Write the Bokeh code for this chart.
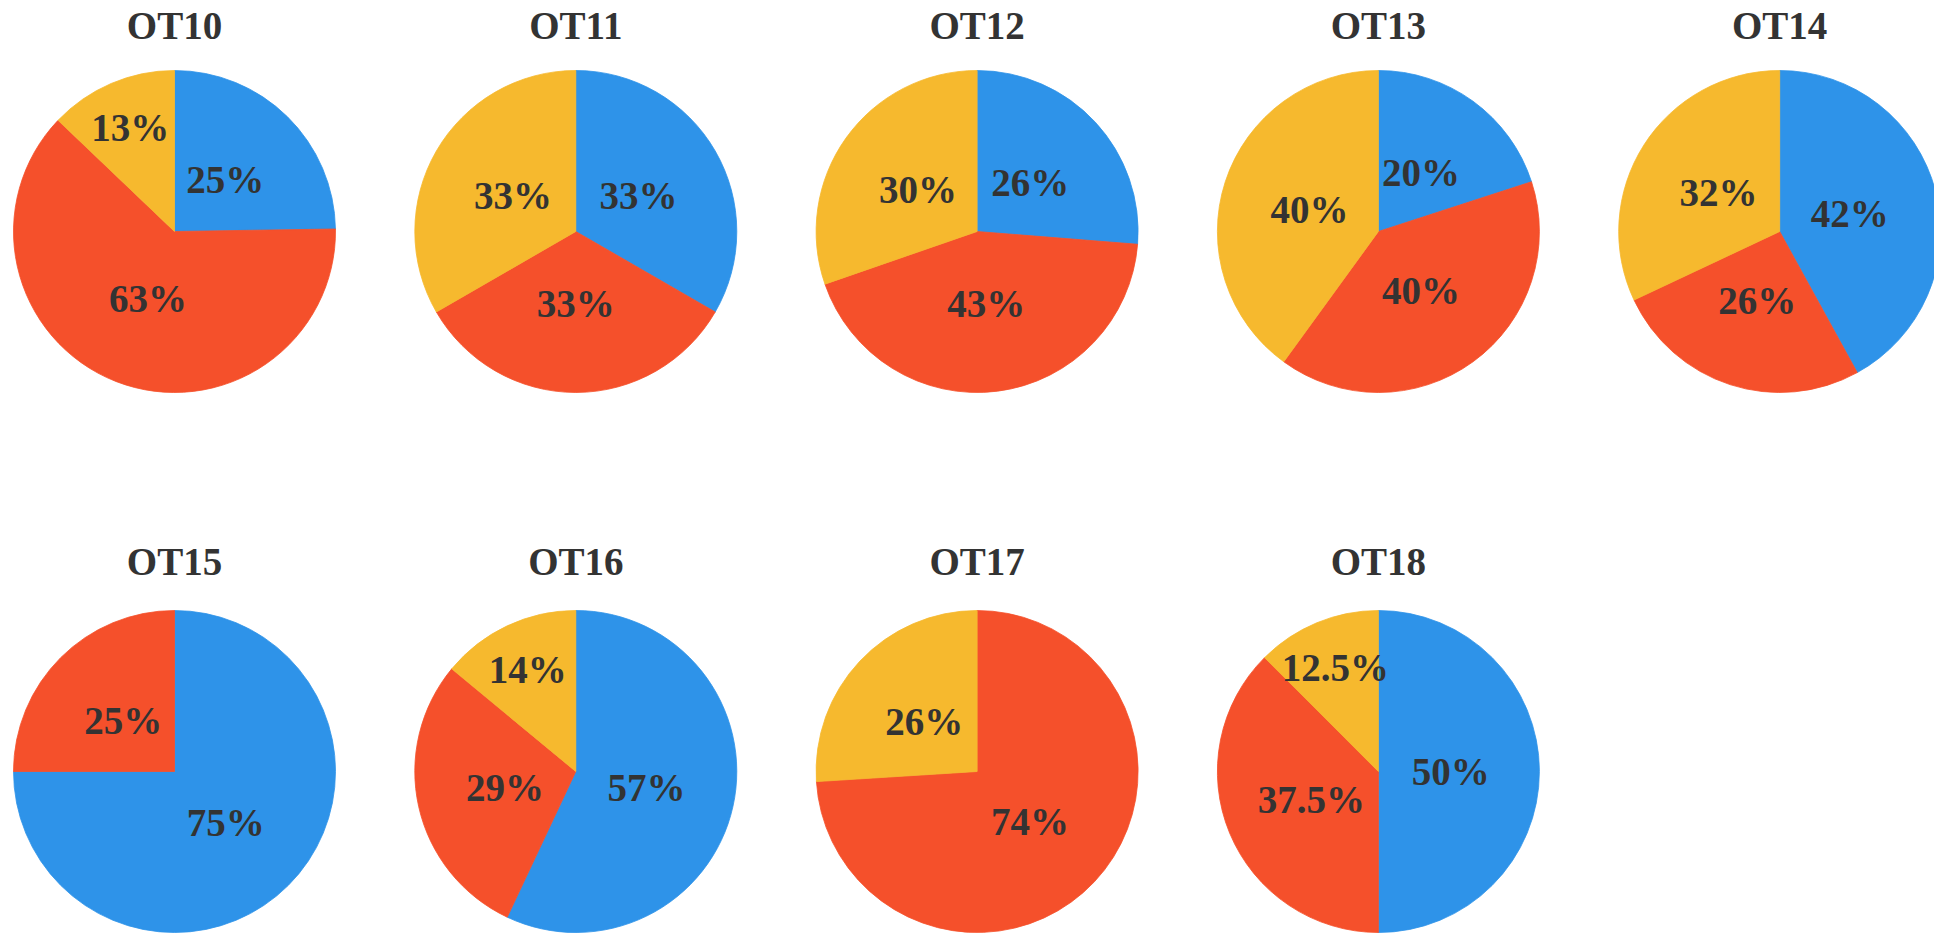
import numpy as np
from bokeh.plotting import figure
from bokeh.models import Range1d, ColumnDataSource
from bokeh.core.properties import value
from bokeh.embed import file_html
from bokeh.resources import INLINE

# ---- data (percent shares) ----
titles = ["OT10", "OT11", "OT12", "OT13", "OT14", "OT15", "OT16", "OT17", "OT18"]
blue_pct = [25, 33, 26, 20, 42, 75, 57, 0, 50]
red_pct = [63, 33, 43, 40, 26, 25, 29, 74, 37.5]
yellow_pct = [13, 33, 30, 40, 32, 0, 14, 26, 12.5]

series_colors = ["#2E93E9", "#F5502B", "#F6B92E"]

# ---- layout (page px) ----
W, H = 1934, 935
R = 161
col_x = [174 + 401.3 * c for c in range(5)]
row_pie_y = [H - 231, H - 771]
row_title_y = [H - 25, H - 561]
FONT = value("Liberation Serif")

p = figure(width=W, height=H, output_backend="svg", toolbar_location=None,
           x_range=Range1d(0, W), y_range=Range1d(0, H),
           x_axis_type=None, y_axis_type=None, min_border=0,
           outline_line_color=None, background_fill_color="white",
           border_fill_color="white")
p.grid.visible = False

wx, wy, ws, we, wc = [], [], [], [], []
lx, ly, lt = [], [], []
tx, ty, tt = [], [], []

for i, name in enumerate(titles):
    r, c = divmod(i, 5)
    cx, cy = col_x[c], row_pie_y[r]
    tx.append(cx); ty.append(row_title_y[r]); tt.append(name)
    vals = [blue_pct[i], red_pct[i], yellow_pct[i]]
    tot = float(sum(vals))
    f0 = 0.0
    for v, col in zip(vals, series_colors):
        if v <= 0:
            continue
        share = v / tot
        f1 = f0 + share
        wx.append(cx); wy.append(cy)
        ws.append(np.pi / 2 - 2 * np.pi * f0)
        we.append(np.pi / 2 - 2 * np.pi * f1)
        wc.append(col)
        fm = (f0 + f1) / 2
        ang = np.pi / 2 - 2 * np.pi * fm
        k = 0.70 if share < 0.15 else 0.45
        lx.append(cx + k * R * np.cos(ang))
        ly.append(cy + k * R * np.sin(ang))
        lt.append(f"{v:g}%")
        f0 = f1

wsrc = ColumnDataSource(dict(x=wx, y=wy, start=ws, end=we, color=wc))
p.wedge(x="x", y="y", radius=R, start_angle="start", end_angle="end",
        direction="clock", fill_color="color", line_color="color",
        line_width=0.8, source=wsrc)

p.text(x=lx, y=ly, text=lt, text_font=FONT,
       text_font_style="bold", text_font_size="39px", text_align="center",
       text_baseline="middle", text_color="#333333")

p.text(x=tx, y=ty, text=tt, text_font=FONT,
       text_font_style="bold", text_font_size="39px", text_align="center",
       text_baseline="middle", text_color="#333333")

open("out.html", "w").write(file_html(p, INLINE))
